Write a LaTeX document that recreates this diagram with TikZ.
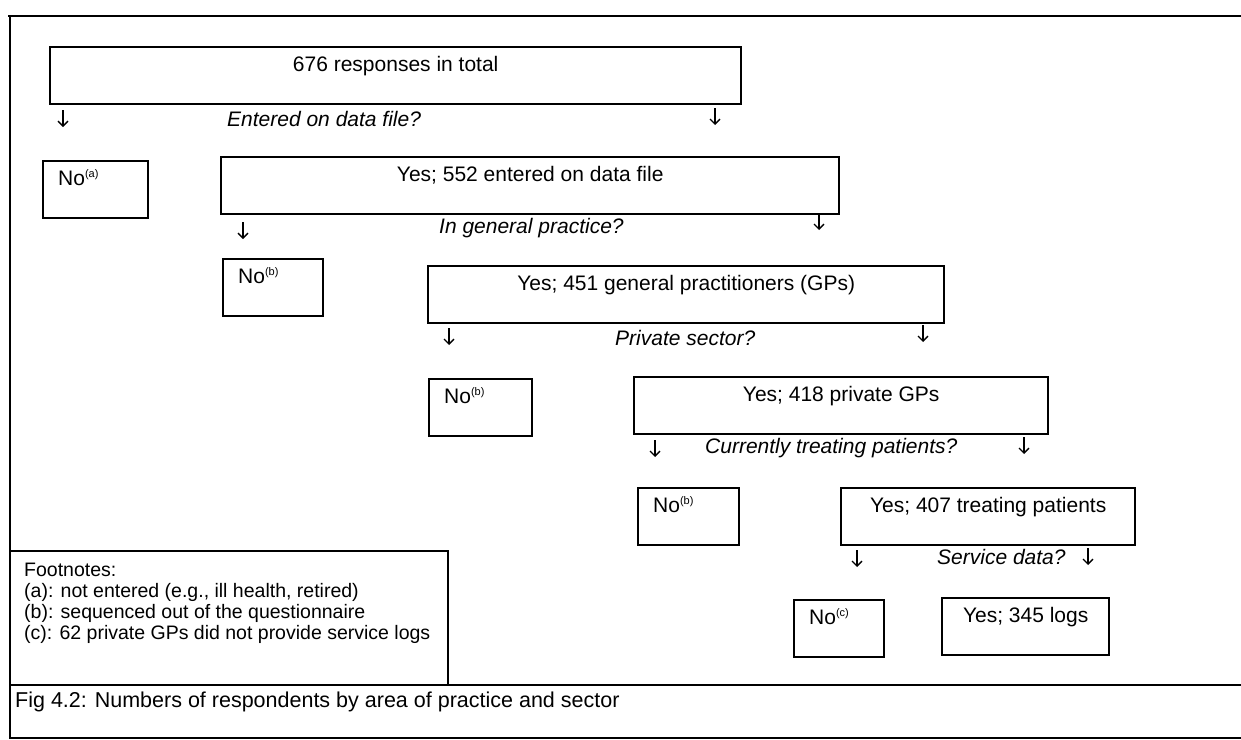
\documentclass[tikz,border=0pt]{standalone}
\usepackage{fontspec}
\setmainfont{Liberation Sans}
\usetikzlibrary{arrows.meta}
\newcommand{\fnref}[1]{\textsuperscript{\fontsize{11}{11}\selectfont(#1)}}

\begin{document}
\begin{tikzpicture}[x=1pt, y=-1pt, font=\fontsize{21}{24}\selectfont]
\tikzstyle{frame}=[line width=2.4pt]
\tikzstyle{yesbox}=[
draw,
line width=2.4pt,
anchor=north west,
inner sep=0pt,
text height=24pt,
text depth=33pt
]
\tikzstyle{nobox}=[yesbox, inner xsep=15pt, text width=60pt, align=left]
\tikzstyle{question}=[anchor=base west, inner sep=0pt, font=\fontsize{21}{24}\selectfont\itshape]
\tikzstyle{note}=[anchor=base west, inner sep=0pt, font=\fontsize{19.5}{22}\selectfont]
\useasboundingbox (0,0) rectangle (1241,739);
\tikzstyle{flow}=[line width=1.3pt, -{Straight Barb[length=5pt, width=10pt]}]
%
\draw[frame] (8,16) -- (1241,16);
\draw[frame] (10,16) -- (10,739);
\draw[frame] (10,685) -- (1241,685);
\draw[frame] (10,738) -- (1241,738);
\draw[frame] (10,551) -- (448,551) -- (448,685);
%
\node[yesbox, minimum width=691pt] (TOTAL) at (49,46) {676 responses in total};
\node[nobox, text width=75pt] (NOA) at (42,160) {No\fnref{a}};
\node[yesbox, minimum width=618pt] (ENTERED) at (220,156) {Yes; 552 entered on data file};
\node[nobox, text width=70pt] (NOB1) at (222,258) {No\fnref{b}};
\node[yesbox, minimum width=516pt] (GP) at (427,265) {Yes; 451 general practitioners (GPs)};
\node[nobox, text width=73pt] (NOB2) at (428,378) {No\fnref{b}};
\node[yesbox, minimum width=414pt] (PRIVATE) at (633,376) {Yes; 418 private GPs};
\node[nobox, text width=71pt] (NOB3) at (637,487) {No\fnref{b}};
\node[yesbox, minimum width=294pt] (TREATING) at (840,487) {Yes; 407 treating patients};
\node[nobox] (NOC) at (793,599) {No\fnref{c}};
\node[yesbox, minimum width=167pt] (LOGS) at (941,597) {Yes; 345 logs};
%
\node[question] (Q1) at (227,126) {Entered on data file?};
\node[question] (Q2) at (439,233) {In general practice?};
\node[question] (Q3) at (615,345) {Private sector?};
\node[question] (Q4) at (705,453) {Currently treating patients?};
\node[question] (Q5) at (937,564) {Service data?};
%
\foreach \n/\x/\y in {1/63/110, 2/715/108, 3/243/222, 4/819/213, 5/449/328,
  6/923/325, 7/655/440, 8/1024/437, 9/857/550, 10/1088/548}
{
\coordinate (T\n) at (\x,\y);
\coordinate (H\n) at (\x,\y+17);
\draw[flow] (T\n) -- (H\n);
}
%
\foreach \i/\t in {0/{Footnotes:}, 1/{(a): not entered (e.g., ill health, retired)},
  2/{(b): sequenced out of the questionnaire}, 3/{(c): 62 private GPs did not provide service logs}}
\node[note] (FN\i) at (24,576+21*\i) {\t};
\node[note, font=\fontsize{21.5}{24}\selectfont] (CAPTION) at (15,707) {Fig 4.2: Numbers of respondents by area of practice and sector};
\end{tikzpicture}
\end{document}
